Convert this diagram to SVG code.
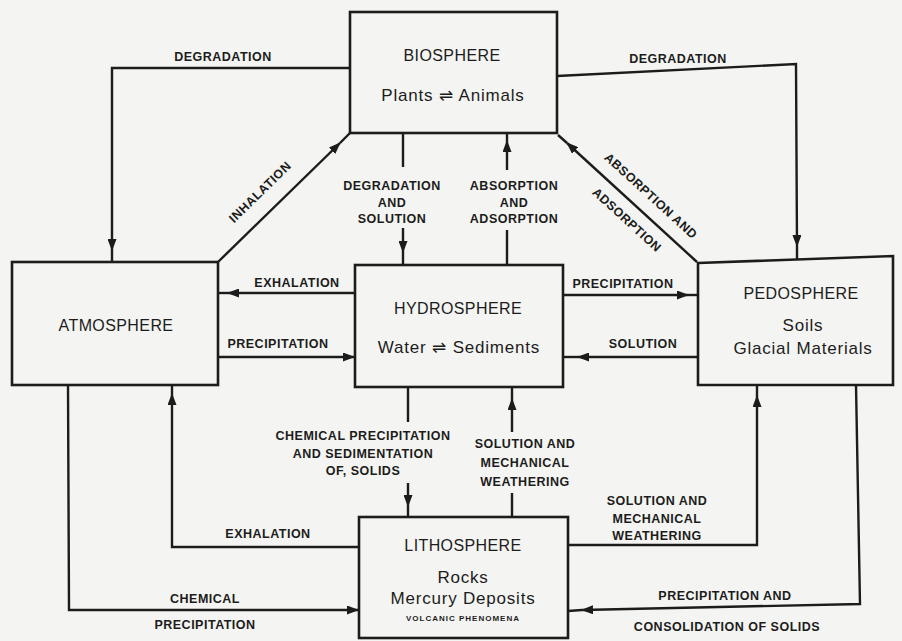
<svg xmlns="http://www.w3.org/2000/svg" width="902" height="641" viewBox="0 0 902 641">
<defs>
<marker id="ah" markerUnits="userSpaceOnUse" markerWidth="12" markerHeight="9" refX="11" refY="4.5" orient="auto">
<path d="M0,0 L12,4.5 L0,9 z" fill="#1c1c1c"/>
</marker>
<style>
.box{fill:#f4f4f2;stroke:#1c1c1c;stroke-width:2.6}
.ln{fill:none;stroke:#1c1c1c;stroke-width:2.4;stroke-linejoin:miter}
.ar{fill:none;stroke:#1c1c1c;stroke-width:2.4;marker-end:url(#ah)}
.t{font-family:"Liberation Sans","DejaVu Sans",sans-serif;fill:#1c1c1c;text-anchor:middle}
.title{font-size:16px;letter-spacing:0.4px}
.sub{font-size:17px;letter-spacing:0.8px}
.lab{font-size:12.5px;font-weight:bold;letter-spacing:0.5px}
.small{font-size:8px;font-weight:bold;letter-spacing:1px}
</style>
</defs>
<rect x="0" y="0" width="902" height="641" fill="#f4f4f2"/>

<g id="connectors">
<!-- degradation left -->
<path class="ar" d="M350,68 L112,68 L112,250"/>
<path class="ln" d="M112,250 L112,262"/>
<text class="t lab" x="223" y="61">DEGRADATION</text>
<!-- degradation right -->
<path class="ar" d="M557,76 L796,64 L797,246"/>
<path class="ln" d="M797,246 L797,259"/>
<text class="t lab" x="678" y="63">DEGRADATION</text>
<!-- inhalation -->
<path class="ar" d="M218,262 L340,143"/>
<path class="ln" d="M340,143 L350,133"/>
<text class="t lab" transform="translate(263,195) rotate(-44.4)">INHALATION</text>
<!-- degradation and solution -->
<path class="ln" d="M403,133 L403,167"/>
<path class="ar" d="M403,228 L403,252"/>
<path class="ln" d="M403,252 L403,265"/>
<text class="t lab" x="392" y="190">DEGRADATION</text>
<text class="t lab" x="392" y="207">AND</text>
<text class="t lab" x="392" y="223">SOLUTION</text>
<!-- absorption and adsorption (vertical) -->
<path class="ln" d="M507,265 L507,230"/>
<path class="ar" d="M507,170 L507,141"/>
<path class="ln" d="M507,141 L507,133"/>
<text class="t lab" x="514" y="190">ABSORPTION</text>
<text class="t lab" x="514" y="207">AND</text>
<text class="t lab" x="514" y="223">ADSORPTION</text>
<!-- absorption and adsorption (diagonal) -->
<path class="ar" d="M697,262 L567,143"/>
<path class="ln" d="M567,143 L558,135"/>
<text class="t lab" transform="translate(648,199) rotate(42.4)">ABSORPTION AND</text>
<text class="t lab" transform="translate(624,223) rotate(42.4)">ADSORPTION</text>
<!-- exhalation hydro -> atmo -->
<path class="ar" d="M355,293 L228,293"/>
<path class="ln" d="M228,293 L218,293"/>
<text class="t lab" x="297" y="287">EXHALATION</text>
<!-- precipitation atmo -> hydro -->
<path class="ar" d="M218,357 L354,357"/>
<text class="t lab" x="278" y="348">PRECIPITATION</text>
<!-- precipitation hydro -> pedo -->
<path class="ar" d="M563,295 L688,295"/>
<path class="ln" d="M688,295 L698,295"/>
<text class="t lab" x="623" y="288">PRECIPITATION</text>
<!-- solution pedo -> hydro -->
<path class="ar" d="M698,357 L578,357"/>
<path class="ln" d="M578,357 L563,357"/>
<text class="t lab" x="643" y="348">SOLUTION</text>
<!-- chemical precipitation (hydro -> litho) -->
<path class="ln" d="M408,387 L408,422"/>
<path class="ar" d="M408,483 L408,506"/>
<path class="ln" d="M408,506 L408,517"/>
<text class="t lab" x="363" y="440">CHEMICAL PRECIPITATION</text>
<text class="t lab" x="363" y="458">AND SEDIMENTATION</text>
<text class="t lab" x="363" y="475">OF, SOLIDS</text>
<!-- solution and mechanical weathering (litho -> hydro) -->
<path class="ln" d="M512,517 L512,493"/>
<path class="ar" d="M512,432 L512,399"/>
<path class="ln" d="M512,399 L512,387"/>
<text class="t lab" x="525" y="448">SOLUTION AND</text>
<text class="t lab" x="525" y="467">MECHANICAL</text>
<text class="t lab" x="525" y="486">WEATHERING</text>
<!-- exhalation litho -> atmo -->
<path class="ar" d="M359,547 L172,547 L172,394"/>
<path class="ln" d="M172,394 L172,385"/>
<text class="t lab" x="268" y="538">EXHALATION</text>
<!-- chemical precipitation atmo -> litho -->
<path class="ar" d="M68,385 L69,610 L358,610"/>
<path class="ln" d="M358,610 L359,610"/>
<text class="t lab" x="205" y="603">CHEMICAL</text>
<text class="t lab" x="205" y="629">PRECIPITATION</text>
<!-- solution and mechanical weathering litho -> pedo -->
<path class="ar" d="M568,545 L757,545 L757,396"/>
<path class="ln" d="M757,396 L757,385"/>
<text class="t lab" x="657" y="505">SOLUTION AND</text>
<text class="t lab" x="657" y="523">MECHANICAL</text>
<text class="t lab" x="657" y="540">WEATHERING</text>
<!-- precipitation and consolidation pedo -> litho -->
<path class="ar" d="M856,385 L860,604 L582,610"/>
<path class="ln" d="M582,610 L568,611"/>
<text class="t lab" x="725" y="600">PRECIPITATION AND</text>
<text class="t lab" x="727" y="631">CONSOLIDATION OF SOLIDS</text>
</g>

<g id="biosphere">
<rect class="box" x="350" y="12" width="207" height="121"/>
<text class="t title" x="452" y="61">BIOSPHERE</text>
<text class="t sub" x="453" y="101">Plants ⇌ Animals</text>
</g>

<g id="atmosphere">
<rect class="box" x="12" y="262" width="206" height="123"/>
<text class="t title" x="116" y="331">ATMOSPHERE</text>
</g>

<g id="hydrosphere">
<rect class="box" x="355" y="265" width="208" height="122"/>
<text class="t title" x="458" y="314">HYDROSPHERE</text>
<text class="t sub" x="459" y="353">Water ⇌ Sediments</text>
</g>

<g id="pedosphere">
<path class="box" d="M698,263 L893,256 L893,385 L698,385 Z"/>
<text class="t title" x="801" y="299">PEDOSPHERE</text>
<text class="t sub" x="803" y="331">Soils</text>
<text class="t sub" x="803" y="354">Glacial Materials</text>
</g>

<g id="lithosphere">
<rect class="box" x="359" y="517" width="209" height="121"/>
<text class="t title" x="463" y="551">LITHOSPHERE</text>
<text class="t sub" x="463" y="583">Rocks</text>
<text class="t sub" x="463" y="604">Mercury Deposits</text>
<text class="t small" x="463" y="621">VOLCANIC PHENOMENA</text>
</g>
</svg>
